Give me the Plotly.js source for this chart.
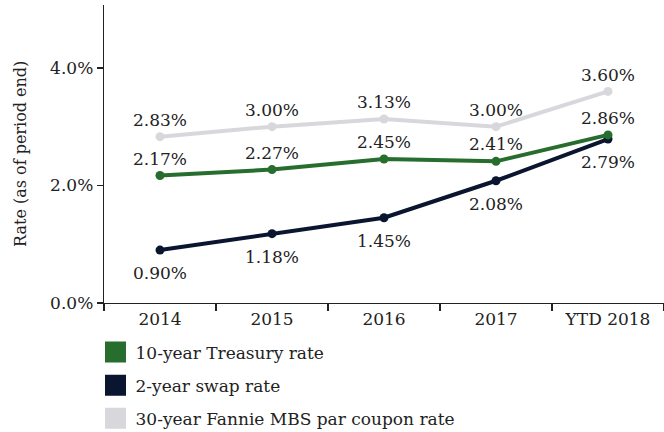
<!DOCTYPE html>
<html>
<head>
<meta charset="utf-8">
<script src="https://cdn.plot.ly/plotly-3.0.1.min.js"></script>
<style>html,body{margin:0;padding:0;background:#fff;}#chart{width:664px;height:432px;}</style>
</head>
<body>
<div id="chart"></div>
<script>
const categories = ["2014", "2015", "2016", "2017", "YTD 2018"];
const treasury10 = [2.17, 2.27, 2.45, 2.41, 2.86];
const swap2 = [0.90, 1.18, 1.45, 2.08, 2.79];
const fannie30 = [2.83, 3.00, 3.13, 3.00, 3.60];
const seriesNames = ["10-year Treasury rate", "2-year swap rate", "30-year Fannie MBS par coupon rate"];
const yTitle = "Rate (as of period end)";
const yTickVals = [0, 2, 4];
const yTickText = ["0.0%", "2.0%", "4.0%"];

const colors = ["#276e2e", "#0a1530", "#d8d7dc"];
const FONT = "DejaVu Serif, Georgia, serif";
const FS = 17;
const txtFont = {family: FONT, size: FS, color: "#222"};
const fmt = v => v.toFixed(2) + "%";

function lineTrace(vals, color, pos, withText) {
  const t = {
    x: categories, y: vals, type: "scatter", mode: withText ? "lines+markers+text" : "lines+markers",
    line: {color: color, width: 4},
    marker: {color: color, size: 9},
    showlegend: false, cliponaxis: false, hoverinfo: "skip"
  };
  if (withText) { t.text = vals.map(fmt); t.textposition = pos; t.textfont = txtFont; }
  return t;
}
function labelTrace(vals, pos) {
  return {
    x: categories, y: vals, type: "scatter", mode: "markers+text",
    marker: {color: "rgba(0,0,0,0)", size: 25},
    text: vals.map(fmt), textposition: pos, textfont: txtFont,
    showlegend: false, cliponaxis: false, hoverinfo: "skip"
  };
}
function legendTrace(name, color, i) {
  return {
    x: [null], y: [null], type: "scatter", mode: "markers", name: name,
    marker: {symbol: "square", size: 16, color: color, line: {color: color, width: 5}},
    legendgroup: "g" + i, showlegend: true
  };
}

const data = [
  labelTrace(swap2, "bottom center"),
  lineTrace(fannie30, colors[2], "top center", true),
  lineTrace(swap2, colors[1], "bottom center", false),
  lineTrace(treasury10, colors[0], "top center", true),
  legendTrace(seriesNames[0], colors[0], 0),
  legendTrace(seriesNames[1], colors[1], 1),
  legendTrace(seriesNames[2], colors[2], 2)
];

const layout = {
  width: 664, height: 432,
  margin: {l: 104, r: 0, t: 5, b: 129, autoexpand: false},
  paper_bgcolor: "#fff", plot_bgcolor: "#fff",
  font: {family: FONT, size: FS, color: "#222"},
  showlegend: true,
  legend: {
    xref: "container", yref: "container",
    x: 95.5 / 664, y: 1 - 334.5 / 432, xanchor: "left", yanchor: "top",
    traceorder: "grouped", tracegroupgap: 8,
    font: {family: FONT, size: FS, color: "#222"},
    bgcolor: "rgba(0,0,0,0)"
  },
  annotations: [{
    text: yTitle, xref: "paper", yref: "paper", x: -84 / 560, y: 0.5,
    xanchor: "center", yanchor: "middle", textangle: -90, showarrow: false,
    font: {family: FONT, size: 16, color: "#222"}
  }],
  xaxis: {
    type: "category", range: [-0.5, 4.5], fixedrange: true,
    showline: true, linecolor: "#222", linewidth: 1.3,
    ticks: "outside", tickson: "boundaries", ticklen: 7, tickcolor: "#222", tickwidth: 1.3,
    showgrid: false, zeroline: false, tickangle: 0,
    tickfont: {family: FONT, size: FS, color: "#222"}
  },
  yaxis: {
    range: [0, 5.07], fixedrange: true,
    tickvals: yTickVals, ticktext: yTickText,
    showline: true, linecolor: "#222", linewidth: 1.3,
    ticks: "outside", ticklen: 6, tickcolor: "#222", tickwidth: 1.3,
    showgrid: false, zeroline: false,
    tickfont: {family: FONT, size: FS, color: "#222"}
  }
};

Plotly.newPlot("chart", data, layout, {displayModeBar: false, staticPlot: true});
</script>
</body>
</html>
